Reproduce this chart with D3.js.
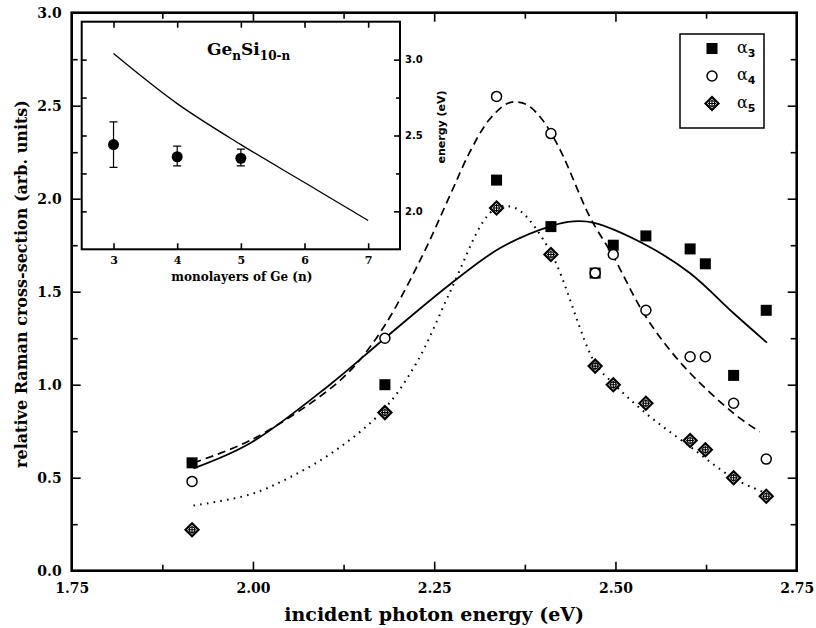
<!DOCTYPE html>
<html>
<head>
<meta charset="utf-8">
<script src="https://cdn.jsdelivr.net/npm/d3@7"></script>
<style>
  body { margin: 0; background: #fff; }
  svg { display: block; }
</style>
</head>
<body>
<div id="chart"></div>
<script>
// measured points, shared photon energies (eV)
var energies = [1.916, 2.182, 2.336, 2.411, 2.472, 2.497, 2.542, 2.603, 2.624, 2.663, 2.708];
var alpha3 = [0.58, 1.00, 2.10, 1.85, 1.60, 1.75, 1.80, 1.73, 1.65, 1.05, 1.40];
var alpha4 = [0.48, 1.25, 2.55, 2.35, 1.60, 1.70, 1.40, 1.15, 1.15, 0.90, 0.60];
var alpha5 = [0.22, 0.85, 1.95, 1.70, 1.10, 1.00, 0.90, 0.70, 0.65, 0.50, 0.40];

// fitted curves as [energy, value]
var fit3 = [[1.918, 0.55], [1.996, 0.685], [2.106, 1.00], [2.182, 1.25], [2.272, 1.54], [2.341, 1.735],
            [2.411, 1.853], [2.442, 1.878], [2.469, 1.871], [2.542, 1.751], [2.603, 1.599], [2.663, 1.384], [2.709, 1.226]];
var fit4 = [[1.918, 0.58], [1.996, 0.70], [2.097, 0.95], [2.14, 1.10], [2.182, 1.32], [2.232, 1.68], [2.272, 2.02],
            [2.299, 2.25], [2.325, 2.42], [2.35, 2.51], [2.365, 2.52], [2.38, 2.50], [2.40, 2.42], [2.424, 2.26],
            [2.465, 1.90], [2.497, 1.69], [2.542, 1.365], [2.594, 1.10], [2.663, 0.846], [2.699, 0.747]];
var fit5 = [[1.918, 0.35], [1.996, 0.41], [2.05, 0.50], [2.115, 0.65], [2.179, 0.86], [2.226, 1.12], [2.272, 1.50],
            [2.318, 1.88], [2.336, 1.95], [2.352, 1.96], [2.37, 1.93], [2.411, 1.71], [2.472, 1.115], [2.497, 1.007],
            [2.542, 0.846], [2.603, 0.667], [2.663, 0.497], [2.708, 0.416]];

var xTicks = [1.75, 2.00, 2.25, 2.50, 2.75];
var xMinor = [1.875, 2.125, 2.375, 2.625];
var yTicks = [0, 0.5, 1.0, 1.5, 2.0, 2.5, 3.0];
var yMinor = [0.25, 0.75, 1.25, 1.75, 2.25, 2.75];

// inset data
var layers = [3, 4, 5];
var peakEnergy = [2.44, 2.36, 2.35];
var peakLow = [2.29, 2.30, 2.30];
var peakHigh = [2.59, 2.43, 2.41];
var theoryLayers = [3, 4, 5, 6, 7];
var theoryEnergy = [3.04, 2.71, 2.44, 2.19, 1.94];
var insetXTicks = [3, 4, 5, 6, 7];
var insetYTicks = [2.0, 2.5, 3.0];
var insetYMinor = [2.25, 2.75];

var legendNames = ["3", "4", "5"];
var legendKinds = ["square", "circle", "diamond"];

var W = 816, H = 628;
var serif = "'DejaVu Serif', 'Liberation Serif', serif";
var sans = "'DejaVu Sans', 'Liberation Sans', sans-serif";

var svg = d3.select("#chart").append("svg")
    .attr("width", W)
    .attr("height", H);

var x = d3.scaleLinear().domain([1.75, 2.75]).range([71.7, 796.7]);
var y = d3.scaleLinear().domain([0, 3]).range([570.7, 12.7]);

var style_axis = function(g) {
    g.select(".domain").remove();
    g.selectAll("line").attr("stroke", "#000").attr("stroke-width", 1.6);
    g.selectAll("text").attr("fill", "#000");
}

// main axes, ticks point inward on all four sides
svg.append("g")
    .attr("transform", "translate(" + x.range()[0] + ",0)")
    .call(d3.axisLeft(y).tickValues(yTicks).tickSize(-9).tickPadding(10).tickFormat(d3.format(".1f")))
    .call(style_axis)
    .selectAll("text").attr("font-family", serif).attr("font-weight", "bold").attr("font-size", 14);
svg.append("g")
    .attr("transform", "translate(" + x.range()[0] + ",0)")
    .call(d3.axisLeft(y).tickValues(yMinor).tickSize(-6).tickFormat(""))
    .call(style_axis);
svg.append("g")
    .attr("transform", "translate(" + x.range()[1] + ",0)")
    .call(d3.axisRight(y).tickValues(yTicks).tickSize(-9).tickFormat(""))
    .call(style_axis);
svg.append("g")
    .attr("transform", "translate(" + x.range()[1] + ",0)")
    .call(d3.axisRight(y).tickValues(yMinor).tickSize(-6).tickFormat(""))
    .call(style_axis);
svg.append("g")
    .attr("transform", "translate(0," + y.range()[0] + ")")
    .call(d3.axisBottom(x).tickValues(xTicks).tickSize(-9).tickPadding(12).tickFormat(d3.format(".2f")))
    .call(style_axis)
    .selectAll("text").attr("font-family", serif).attr("font-weight", "bold").attr("font-size", 14);
svg.append("g")
    .attr("transform", "translate(0," + y.range()[0] + ")")
    .call(d3.axisBottom(x).tickValues(xMinor).tickSize(-6).tickFormat(""))
    .call(style_axis);
svg.append("g")
    .attr("transform", "translate(0," + y.range()[1] + ")")
    .call(d3.axisTop(x).tickValues(xTicks).tickSize(-9).tickFormat(""))
    .call(style_axis);
svg.append("g")
    .attr("transform", "translate(0," + y.range()[1] + ")")
    .call(d3.axisTop(x).tickValues(xMinor).tickSize(-6).tickFormat(""))
    .call(style_axis);

svg.append("rect")
    .attr("x", x.range()[0])
    .attr("y", y.range()[1])
    .attr("width", x.range()[1] - x.range()[0])
    .attr("height", y.range()[0] - y.range()[1])
    .attr("fill", "none")
    .attr("stroke", "#000")
    .attr("stroke-width", 2.6);

// axis titles
svg.append("text")
    .attr("transform", "translate(21,284) rotate(-90)")
    .attr("text-anchor", "middle")
    .attr("dominant-baseline", "central")
    .attr("font-family", serif)
    .attr("font-weight", "bold")
    .attr("font-size", 16)
    .text("relative Raman cross-section (arb. units)");

svg.append("text")
    .attr("x", (x.range()[0] + x.range()[1]) / 2)
    .attr("y", 621)
    .attr("text-anchor", "middle")
    .attr("font-family", serif)
    .attr("font-weight", "bold")
    .attr("font-size", 19)
    .text("incident photon energy (eV)");

// fit curves
var line = d3.line()
    .x(function(d) { return x(d[0]); })
    .y(function(d) { return y(d[1]); })
    .curve(d3.curveCatmullRom.alpha(0.5));

svg.append("path").datum(fit3)
    .attr("d", line).attr("fill", "none").attr("stroke", "#000").attr("stroke-width", 1.8);
svg.append("path").datum(fit4)
    .attr("d", line).attr("fill", "none").attr("stroke", "#000").attr("stroke-width", 1.7)
    .attr("stroke-dasharray", "8,5");
svg.append("path").datum(fit5)
    .attr("d", line).attr("fill", "none").attr("stroke", "#000").attr("stroke-width", 2)
    .attr("stroke-dasharray", "1.6,5.2");

// markers
var draw_marker = function(g, kind, cx, cy) {
    if ( kind == "square" ) {
        g.append("rect")
            .attr("x", cx - 5.5).attr("y", cy - 5.5)
            .attr("width", 11).attr("height", 11)
            .attr("fill", "#000");
    } else if ( kind == "circle" ) {
        g.append("circle")
            .attr("cx", cx).attr("cy", cy).attr("r", 5)
            .attr("fill", "#fff").attr("stroke", "#000").attr("stroke-width", 1.5);
    } else {
        var s = 6.5;
        g.append("path")
            .attr("d", "M" + cx + "," + (cy - s) + "L" + (cx + s) + "," + cy + "L" + cx + "," + (cy + s) + "L" + (cx - s) + "," + cy + "Z")
            .attr("fill", "#fff").attr("stroke", "#000").attr("stroke-width", 2.2);
        g.append("circle")
            .attr("cx", cx).attr("cy", cy).attr("r", 2.8)
            .attr("fill", "none").attr("stroke", "#000").attr("stroke-width", 1.1);
        g.append("path")
            .attr("d", "M" + (cx - 4) + "," + cy + "H" + (cx + 4) + "M" + cx + "," + (cy - 4) + "V" + (cy + 4))
            .attr("stroke", "#000").attr("stroke-width", 1.1);
    }
}

var pts = svg.append("g");
var series = [alpha3, alpha4, alpha5];
for ( s = 0; s < series.length; s++ ) {
    for ( i = 0; i < energies.length; i++ ) {
        draw_marker(pts, legendKinds[s], x(energies[i]), y(series[s][i]));
    }
}

// legend
var leg = svg.append("g");
leg.append("rect")
    .attr("x", 680).attr("y", 34).attr("width", 84).attr("height", 94)
    .attr("fill", "#fff").attr("stroke", "#000").attr("stroke-width", 1.5);
for ( i = 0; i < legendNames.length; i++ ) {
    var ly = 48.5 + i * 27.5;
    draw_marker(leg, legendKinds[i], 712, ly);
    var t = leg.append("text")
        .attr("x", 737).attr("y", ly + 4)
        .attr("font-family", serif)
        .attr("font-size", 16);
    t.append("tspan").text("\u03b1");
    t.append("tspan")
        .attr("dy", 4)
        .attr("font-family", sans)
        .attr("font-weight", "bold")
        .attr("font-size", 11)
        .text(legendNames[i]);
}

// inset
var ix = d3.scaleLinear().domain([2.5, 7.5]).range([81.7, 400]);
var iy = d3.scaleLinear().domain([1.75, 3.25]).range([249.3, 21.7]);
var inset = svg.append("g");

inset.append("rect")
    .attr("x", ix.range()[0]).attr("y", iy.range()[1])
    .attr("width", ix.range()[1] - ix.range()[0])
    .attr("height", iy.range()[0] - iy.range()[1])
    .attr("fill", "#fff");

inset.append("g")
    .attr("transform", "translate(0," + iy.range()[0] + ")")
    .call(d3.axisBottom(ix).tickValues(insetXTicks).tickSize(-6).tickPadding(7).tickFormat(d3.format("d")))
    .call(style_axis)
    .selectAll("text").attr("font-family", serif).attr("font-weight", "bold").attr("font-size", 11);
inset.append("g")
    .attr("transform", "translate(0," + iy.range()[1] + ")")
    .call(d3.axisTop(ix).tickValues(insetXTicks).tickSize(-6).tickFormat(""))
    .call(style_axis);
inset.append("g")
    .attr("transform", "translate(" + ix.range()[1] + ",0)")
    .call(d3.axisRight(iy).tickValues(insetYTicks).tickSize(-6).tickPadding(5).tickFormat(d3.format(".1f")))
    .call(style_axis)
    .selectAll("text").attr("font-family", sans).attr("font-weight", "bold").attr("font-size", 10);
inset.append("g")
    .attr("transform", "translate(" + ix.range()[1] + ",0)")
    .call(d3.axisRight(iy).tickValues(insetYMinor).tickSize(-4).tickFormat(""))
    .call(style_axis);
inset.append("g")
    .attr("transform", "translate(" + ix.range()[0] + ",0)")
    .call(d3.axisLeft(iy).tickValues(insetYTicks.concat(insetYMinor)).tickSize(-5).tickFormat(""))
    .call(style_axis);

inset.append("rect")
    .attr("x", ix.range()[0]).attr("y", iy.range()[1])
    .attr("width", ix.range()[1] - ix.range()[0])
    .attr("height", iy.range()[0] - iy.range()[1])
    .attr("fill", "none")
    .attr("stroke", "#000")
    .attr("stroke-width", 2);

var theory = theoryLayers.map(function(n, i) { return [n, theoryEnergy[i]]; });
inset.append("path").datum(theory)
    .attr("d", d3.line()
        .x(function(d) { return ix(d[0]); })
        .y(function(d) { return iy(d[1]); })
        .curve(d3.curveCatmullRom.alpha(0.5)))
    .attr("fill", "none").attr("stroke", "#000").attr("stroke-width", 1.3);

for ( i = 0; i < layers.length; i++ ) {
    var cx = ix(layers[i]);
    inset.append("path")
        .attr("d", "M" + cx + "," + iy(peakLow[i]) + "V" + iy(peakHigh[i]) +
              "M" + (cx - 4) + "," + iy(peakLow[i]) + "H" + (cx + 4) +
              "M" + (cx - 4) + "," + iy(peakHigh[i]) + "H" + (cx + 4))
        .attr("stroke", "#000").attr("stroke-width", 1.2).attr("fill", "none");
    inset.append("circle")
        .attr("cx", cx).attr("cy", iy(peakEnergy[i])).attr("r", 5.5)
        .attr("fill", "#000");
}

var title = inset.append("text")
    .attr("x", 207).attr("y", 55)
    .attr("font-family", serif)
    .attr("font-weight", "bold")
    .attr("font-size", 17);
title.append("tspan").text("Ge");
title.append("tspan").attr("dy", 5).attr("font-size", 12).text("n");
title.append("tspan").attr("dy", -5).text("Si");
title.append("tspan").attr("dy", 5).attr("font-size", 12).text("10-n");

inset.append("text")
    .attr("x", (ix.range()[0] + ix.range()[1]) / 2 + 1)
    .attr("y", 281)
    .attr("text-anchor", "middle")
    .attr("font-family", serif)
    .attr("font-weight", "bold")
    .attr("font-size", 12)
    .text("monolayers of Ge (n)");

inset.append("text")
    .attr("transform", "translate(441,127) rotate(-90)")
    .attr("text-anchor", "middle")
    .attr("dominant-baseline", "central")
    .attr("font-family", sans)
    .attr("font-weight", "bold")
    .attr("font-size", 11)
    .text("energy (eV)");
</script>
</body>
</html>
